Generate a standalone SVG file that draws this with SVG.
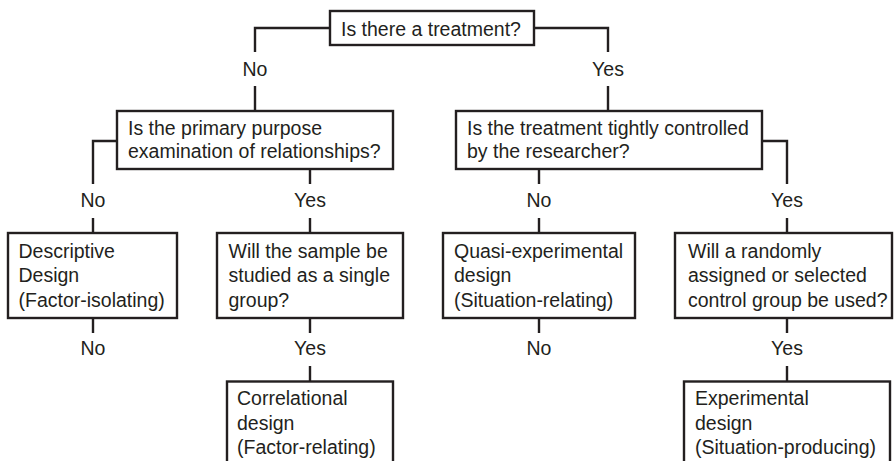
<svg xmlns="http://www.w3.org/2000/svg" width="894" height="461" viewBox="0 0 894 461">
<style>
.box{fill:#fff;stroke:#231f20;stroke-width:2.4}
.ln{fill:none;stroke:#231f20;stroke-width:2.4}
text{font-family:"Liberation Sans",Arial,sans-serif;font-size:19.5px;fill:#231f20}
.lbl{text-anchor:middle}
</style>
<rect width="894" height="461" fill="#fff"/>
<g id="connectors">
<path class="ln" d="M330 28H255V52M255 86V111"/>
<path class="ln" d="M534 28H608V52M608 86V111"/>
<path class="ln" d="M117 141H93V184M93 218V233"/>
<path class="ln" d="M310 169V184M310 218V233"/>
<path class="ln" d="M539 169V184M539 218V233"/>
<path class="ln" d="M762 141H787V184M787 218V233"/>
<path class="ln" d="M93 318V333"/>
<path class="ln" d="M310 318V333M310 366V381"/>
<path class="ln" d="M539 318V333"/>
<path class="ln" d="M787 318V333M787 366V381"/>
<text class="lbl" x="255" y="76">No</text>
<text class="lbl" x="608" y="76">Yes</text>
<text class="lbl" x="93" y="207">No</text>
<text class="lbl" x="310" y="207">Yes</text>
<text class="lbl" x="539" y="207">No</text>
<text class="lbl" x="787" y="207">Yes</text>
<text class="lbl" x="93" y="355">No</text>
<text class="lbl" x="310" y="355">Yes</text>
<text class="lbl" x="539" y="355">No</text>
<text class="lbl" x="787" y="355">Yes</text>
</g>
<g id="q-treatment">
<rect class="box" x="330" y="11" width="204" height="34"/>
<text x="341" y="35.5">Is there a treatment?</text>
</g>
<g id="q-purpose">
<rect class="box" x="117" y="111" width="276" height="58"/>
<text x="128" y="135">Is the primary purpose</text>
<text x="128" y="158">examination of relationships?</text>
</g>
<g id="q-controlled">
<rect class="box" x="456" y="111" width="306" height="58"/>
<text x="467" y="135">Is the treatment tightly controlled</text>
<text x="467" y="158">by the researcher?</text>
</g>
<g id="descriptive">
<rect class="box" x="8" y="233" width="169" height="85"/>
<text x="18.5" y="257.5">Descriptive</text>
<text x="18.5" y="282">Design</text>
<text x="18.5" y="306.5">(Factor-isolating)</text>
</g>
<g id="q-sample">
<rect class="box" x="217" y="233" width="186" height="85"/>
<text x="228.5" y="257.5">Will the sample be</text>
<text x="228.5" y="282">studied as a single</text>
<text x="228.5" y="306.5">group?</text>
</g>
<g id="quasi">
<rect class="box" x="443" y="233" width="192" height="85"/>
<text x="454" y="257.5">Quasi-experimental</text>
<text x="454" y="282">design</text>
<text x="454" y="306.5">(Situation-relating)</text>
</g>
<g id="q-control">
<rect class="box" x="675" y="233" width="217" height="85"/>
<text x="688" y="257.5">Will a randomly</text>
<text x="688" y="282">assigned or selected</text>
<text x="688" y="306.5">control group be used?</text>
</g>
<g id="correlational">
<rect class="box" x="227" y="381.5" width="166" height="100"/>
<text x="237" y="405">Correlational</text>
<text x="237" y="429.5">design</text>
<text x="237" y="454">(Factor-relating)</text>
</g>
<g id="experimental">
<rect class="box" x="684" y="381.5" width="206" height="100"/>
<text x="695" y="405">Experimental</text>
<text x="695" y="429.5">design</text>
<text x="695" y="454">(Situation-producing)</text>
</g>
</svg>
